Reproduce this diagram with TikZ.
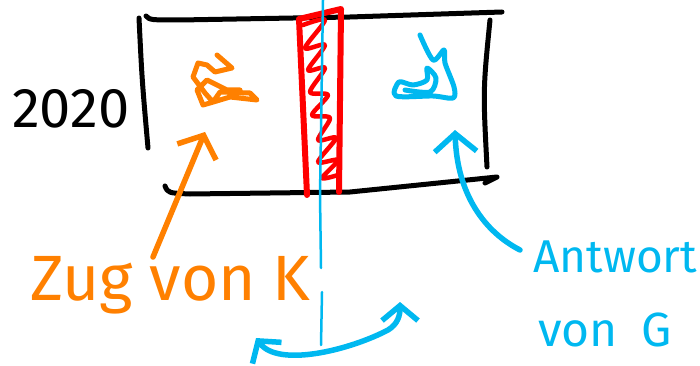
\documentclass[tikz,border=0pt]{standalone}
\usepackage{fontspec}
\setmainfont{Fira Sans}
\usetikzlibrary{arrows.meta}
\definecolor{korange}{HTML}{FF8000}
\definecolor{gblue}{HTML}{00B8F0}
\definecolor{hred}{HTML}{FF0000}
\begin{document}
\begin{tikzpicture}[x=1pt,y=-1pt, line cap=round, line join=round,
  frame/.style={line width=5pt, black},
  ostroke/.style={line width=5.5pt, korange},
  bstroke/.style={line width=5.5pt, gblue},
  rstroke/.style={line width=6pt, hred},
  thinblue/.style={line width=2.5pt, gblue},
  barb/.style={-{Straight Barb[length=18pt,width=42pt]}},
  dbarb/.style={{Straight Barb[length=15pt,width=36pt]}-{Straight Barb[length=15pt,width=36pt]}},
  lbl/.style={inner sep=0pt, font=\fontsize{#1}{#1}\selectfont}]
\useasboundingbox (0,0) rectangle (700,366);

% box
\draw[frame] (146,16) .. controls (150,20) .. (180,20) -- (350,17) -- (502,12);
\draw[frame] (139,18) .. controls (142,80) .. (148,148);
\draw[frame] (165,186) .. controls (168,193) .. (190,194) -- (350,192) -- (497,177) -- (485,183);
\draw[frame] (490,20) .. controls (483,90) .. (487,167);

% red hatched strip
\draw[rstroke] (307,195) -- (299,19) -- (341,9) -- (339,192);
\draw[rstroke, line width=4.5pt] plot[smooth, tension=0.5] coordinates {(303,25) (325,20) (305,48) (325,45) (308,70) (325,68) (310,92) (328,95) (312,115) (330,118) (318,140) (336,138) (318,162) (338,160) (322,178) (338,175)};

% thin blue vertical line
\draw[thinblue] (323,0) -- (320,195) -- (321,268);
\draw[thinblue] (322,292) -- (321,345);

% scribbles
\coordinate (kmark) at (225,80);
\coordinate (gmark) at (425,70);
\draw[ostroke, line width=5pt] (217,55) -- (232,68) -- (215,72) -- (207,65) -- (198,63) -- (193,77) -- (205,93) -- (213,102) -- (220,92) -- (250,93) -- (257,100) -- (230,97) -- (210,103) -- (203,105) -- (197,90) -- (207,80) -- (227,90) -- (240,90);
\draw[bstroke, line width=5pt] plot[smooth, tension=0.5] coordinates {(420,35) (433,60) (444,50) (445,63) (454,87) (453,98) (433,96) (396,96) (399,82) (413,85) (427,80) (427,68) (436,78) (430,92) (405,90)};

% labels
\node[lbl=56, anchor=base west] (year) at (12,128) {2020};
\node[lbl=64, anchor=base west, text=korange] (zug) at (30,300) {Zug von K};
\node[lbl=46, anchor=base west, text=gblue] (antw) at (533,272) {Antwort};
\node[lbl=48, anchor=base west, text=gblue] (vong) at (538,346) {von\hspace{24pt}G};

% arrows
\coordinate (zs) at (153,257);
\coordinate (zt) at (205,132);
\coordinate (as) at (520,250);
\coordinate (at) at (455,130);
\coordinate (ls) at (256,338);
\coordinate (rs) at (400,302);
\draw[ostroke, barb] (zs) -- (zt);
\draw[bstroke, barb] (as) .. controls (485,232) and (457,195) .. (at);
\draw[bstroke, dbarb] (ls) .. controls (278,368) and (350,350) .. (388,330) .. controls (398,324) and (400,315) .. (rs);
\end{tikzpicture}
\end{document}
